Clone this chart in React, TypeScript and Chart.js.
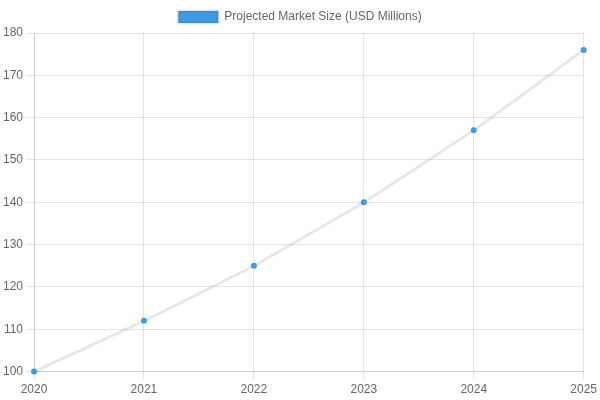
import React, { useEffect, useRef } from "react";
import { Chart, registerables } from "chart.js";

Chart.register(...registerables);

const years = ["2020", "2021", "2022", "2023", "2024", "2025"];
const marketSize = [100, 112, 125, 140, 157, 176];

export default function App() {
  const ref = useRef<HTMLCanvasElement | null>(null);
  useEffect(() => {
    document.body.style.margin = "0";
    const chart = new Chart(ref.current!, {
      type: "line",
      data: {
        labels: years,
        datasets: [
          {
            label: "Projected Market Size (USD Millions)",
            data: marketSize,
            borderColor: "rgba(0,0,0,0.09)",
            backgroundColor: "#3d9be6",
            pointBackgroundColor: "#3d9be6",
            pointBorderColor: "#3d9be6",
            borderWidth: 3,
            pointRadius: 3,
            pointBorderWidth: 0,
            tension: 0.1,
            fill: false,
            clip: false,
          },
        ],
      },
      options: {
        responsive: false,
        animation: false,
        layout: { padding: { top: 1 } },
        plugins: { legend: { display: true } },
        scales: {
          y: { min: 100, max: 180 },
        },
      },
    });
    return () => chart.destroy();
  }, []);
  return (
    <div style={{ width: 600, height: 400 }}>
      <canvas ref={ref} width={600} height={400} style={{ display: "block" }} />
    </div>
  );
}
